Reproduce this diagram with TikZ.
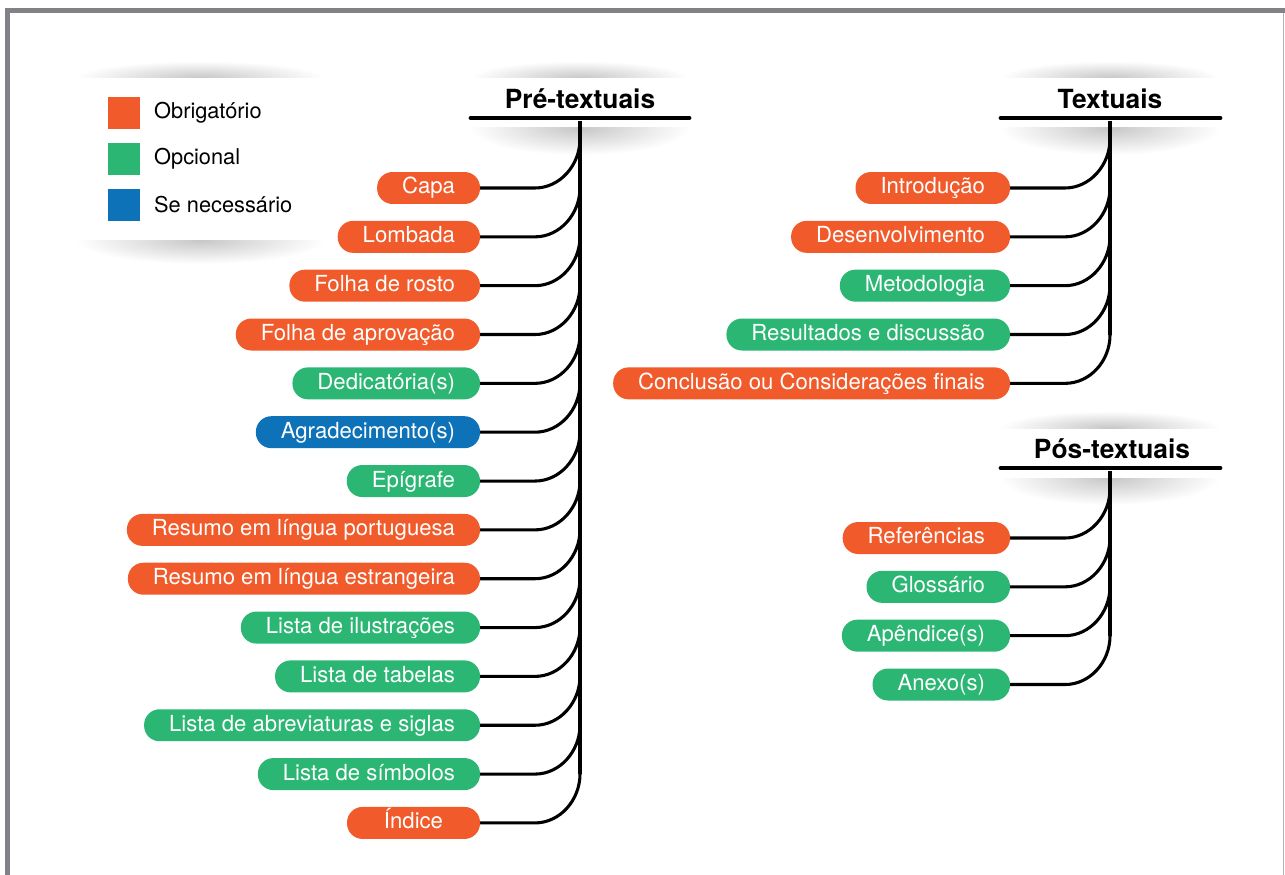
\documentclass[tikz,border=0pt]{standalone}
\usepackage{fontspec}
\setmainfont{TeX Gyre Heros}
\usetikzlibrary{positioning}
\definecolor{mustcol}{RGB}{241,90,43}
\definecolor{optcol}{RGB}{43,182,115}
\definecolor{ifcol}{RGB}{14,114,185}
\definecolor{framegray}{RGB}{128,130,133}

\begin{document}
\begin{tikzpicture}[
    x=0.02cm, y=-0.02cm,
    node distance=0.337cm,
    pill/.style={rectangle, rounded corners=0.31cm, minimum height=0.64cm, inner xsep=0.5cm, inner ysep=0pt, outer sep=0pt, text=white, text height=9pt, text depth=2.2pt, font=\fontsize{12.6}{14}\selectfont},
    head/.style={font=\fontsize{15}{18}\selectfont\bfseries},
    swatch/.style={rectangle, minimum size=0.64cm, inner sep=0pt, outer sep=0pt},
    keytext/.style={font=\fontsize{12.4}{14}\selectfont, anchor=west},
    link/.style={line width=1.75pt},
    bar/.style={line width=2.8pt, line cap=round},
    shadow/.style={inner color=black!22, outer color=white}
]
\useasboundingbox (0,0) rectangle (1285,875);

% Frame
\fill[framegray] (5,8) rectangle (1285,13);
\fill[framegray] (5,8) rectangle (10,875);
\draw[framegray!60, line width=0.5pt] (1283,13) -- (1283,875);

% Shadows of the legend and the headers
\begin{scope}
  \clip (60,40) rectangle (340,78);
  \shade[shadow] (200,78) ellipse (125 and 17);
\end{scope}
\begin{scope}
  \clip (60,240) rectangle (340,290);
  \shade[shadow] (200,240) ellipse (125 and 24);
\end{scope}
\begin{scope}
  \clip (460,40) rectangle (700,78);
  \shade[shadow] (580,78) ellipse (110 and 17);
\end{scope}
\begin{scope}
  \clip (460,128) rectangle (700,180);
  \shade[shadow] (580,128) ellipse (110 and 27);
\end{scope}
\begin{scope}
  \clip (990,40) rectangle (1230,78);
  \shade[shadow] (1110,78) ellipse (110 and 17);
\end{scope}
\begin{scope}
  \clip (990,128) rectangle (1230,180);
  \shade[shadow] (1110,128) ellipse (110 and 27);
\end{scope}
\begin{scope}
  \clip (990,390) rectangle (1230,428);
  \shade[shadow] (1110,428) ellipse (110 and 17);
\end{scope}
\begin{scope}
  \clip (990,478) rectangle (1230,530);
  \shade[shadow] (1110,478) ellipse (110 and 27);
\end{scope}

% Legend
\node[swatch, fill=mustcol] (kmust) at (124,113) {};
\node[swatch, fill=optcol] (kopt) at (124,159) {};
\node[swatch, fill=ifcol] (kif) at (124,205) {};
\node[keytext, right=0.16cm of kmust.east] (tmust) {Obrigatório};
\node[keytext, right=0.16cm of kopt.east] (topt) {Opcional};
\node[keytext, right=0.16cm of kif.east] (tif) {Se necessário};

% Headers
\node[head] (pre) at (580,99) {Pré-textuais};
\node[head] (txt) at (1110,99) {Textuais};
\node[head] (pos) at (1112,449) {Pós-textuais};
\draw[bar] (471,118) -- (689,118);
\draw[bar] (1001,118) -- (1220,118);
\draw[bar] (1001,468) -- (1220,468);

% Trunks
\coordinate (pretop) at (580,121);
\coordinate (preend) at (580,774);
\coordinate (txttop) at (1110,121);
\coordinate (txtend) at (1110,335);
\coordinate (postop) at (1110,471);
\coordinate (posend) at (1110,636);
\draw[link] (pretop) -- (preend);
\draw[link] (txttop) -- (txtend);
\draw[link] (postop) -- (posend);

% Pre-textual elements
\node[pill, fill=mustcol, anchor=east] (capa) at (480,188) {Capa};
\node[pill, fill=mustcol, below=of capa.south east, anchor=north east] (lombada) {Lombada};
\node[pill, fill=mustcol, below=of lombada.south east, anchor=north east] (rosto) {Folha de rosto};
\node[pill, fill=mustcol, below=of rosto.south east, anchor=north east] (aprov) {Folha de aprovação};
\node[pill, fill=optcol, below=of aprov.south east, anchor=north east] (dedic) {Dedicatória(s)};
\node[pill, fill=ifcol, below=of dedic.south east, anchor=north east] (agrad) {Agradecimento(s)};
\node[pill, fill=optcol, below=of agrad.south east, anchor=north east] (epig) {Epígrafe};
\node[pill, fill=mustcol, below=of epig.south east, anchor=north east] (respt) {Resumo em língua portuguesa};
\node[pill, fill=mustcol, below=of respt.south east, anchor=north east] (resext) {Resumo em língua estrangeira};
\node[pill, fill=optcol, below=of resext.south east, anchor=north east] (lilus) {Lista de ilustrações};
\node[pill, fill=optcol, below=of lilus.south east, anchor=north east] (ltab) {Lista de tabelas};
\node[pill, fill=optcol, below=of ltab.south east, anchor=north east] (labrev) {Lista de abreviaturas e siglas};
\node[pill, fill=optcol, below=of labrev.south east, anchor=north east] (lsimb) {Lista de símbolos};
\node[pill, fill=mustcol, minimum width=2.66cm, below=of lsimb.south east, anchor=north east] (indice) {Índice};

% Textual elements
\node[pill, fill=mustcol, anchor=east] (intro) at (1010,188) {Introdução};
\node[pill, fill=mustcol, below=of intro.south east, anchor=north east] (desenv) {Desenvolvimento};
\node[pill, fill=optcol, below=of desenv.south east, anchor=north east] (metod) {Metodologia};
\node[pill, fill=optcol, below=of metod.south east, anchor=north east] (result) {Resultados e discussão};
\node[pill, fill=mustcol, below=of result.south east, anchor=north east] (concl) {Conclusão ou Considerações finais};

% Post-textual elements
\node[pill, fill=mustcol, anchor=east] (refs) at (1010,538) {Referências};
\node[pill, fill=optcol, below=of refs.south east, anchor=north east] (gloss) {Glossário};
\node[pill, fill=optcol, below=of gloss.south east, anchor=north east] (apend) {Apêndice(s)};
\node[pill, fill=optcol, below=of apend.south east, anchor=north east] (anexo) {Anexo(s)};

% Twigs into the trunks
\draw[link] (capa.east) -- ++(55,0) .. controls +(25,0) and +(0,26) .. ++(45,-49);
\draw[link] (lombada.east) -- ++(55,0) .. controls +(25,0) and +(0,26) .. ++(45,-49);
\draw[link] (rosto.east) -- ++(55,0) .. controls +(25,0) and +(0,26) .. ++(45,-49);
\draw[link] (aprov.east) -- ++(55,0) .. controls +(25,0) and +(0,26) .. ++(45,-49);
\draw[link] (dedic.east) -- ++(55,0) .. controls +(25,0) and +(0,26) .. ++(45,-49);
\draw[link] (agrad.east) -- ++(55,0) .. controls +(25,0) and +(0,26) .. ++(45,-49);
\draw[link] (epig.east) -- ++(55,0) .. controls +(25,0) and +(0,26) .. ++(45,-49);
\draw[link] (respt.east) -- ++(55,0) .. controls +(25,0) and +(0,26) .. ++(45,-49);
\draw[link] (resext.east) -- ++(55,0) .. controls +(25,0) and +(0,26) .. ++(45,-49);
\draw[link] (lilus.east) -- ++(55,0) .. controls +(25,0) and +(0,26) .. ++(45,-49);
\draw[link] (ltab.east) -- ++(55,0) .. controls +(25,0) and +(0,26) .. ++(45,-49);
\draw[link] (labrev.east) -- ++(55,0) .. controls +(25,0) and +(0,26) .. ++(45,-49);
\draw[link] (lsimb.east) -- ++(55,0) .. controls +(25,0) and +(0,26) .. ++(45,-49);
\draw[link] (indice.east) -- ++(55,0) .. controls +(25,0) and +(0,26) .. (preend);
\draw[link] (intro.east) -- ++(55,0) .. controls +(25,0) and +(0,26) .. ++(45,-49);
\draw[link] (desenv.east) -- ++(55,0) .. controls +(25,0) and +(0,26) .. ++(45,-49);
\draw[link] (metod.east) -- ++(55,0) .. controls +(25,0) and +(0,26) .. ++(45,-49);
\draw[link] (result.east) -- ++(55,0) .. controls +(25,0) and +(0,26) .. ++(45,-49);
\draw[link] (concl.east) -- ++(55,0) .. controls +(25,0) and +(0,26) .. (txtend);
\draw[link] (refs.east) -- ++(55,0) .. controls +(25,0) and +(0,26) .. ++(45,-49);
\draw[link] (gloss.east) -- ++(55,0) .. controls +(25,0) and +(0,26) .. ++(45,-49);
\draw[link] (apend.east) -- ++(55,0) .. controls +(25,0) and +(0,26) .. ++(45,-49);
\draw[link] (anexo.east) -- ++(55,0) .. controls +(25,0) and +(0,26) .. (posend);

\end{tikzpicture}
\end{document}
